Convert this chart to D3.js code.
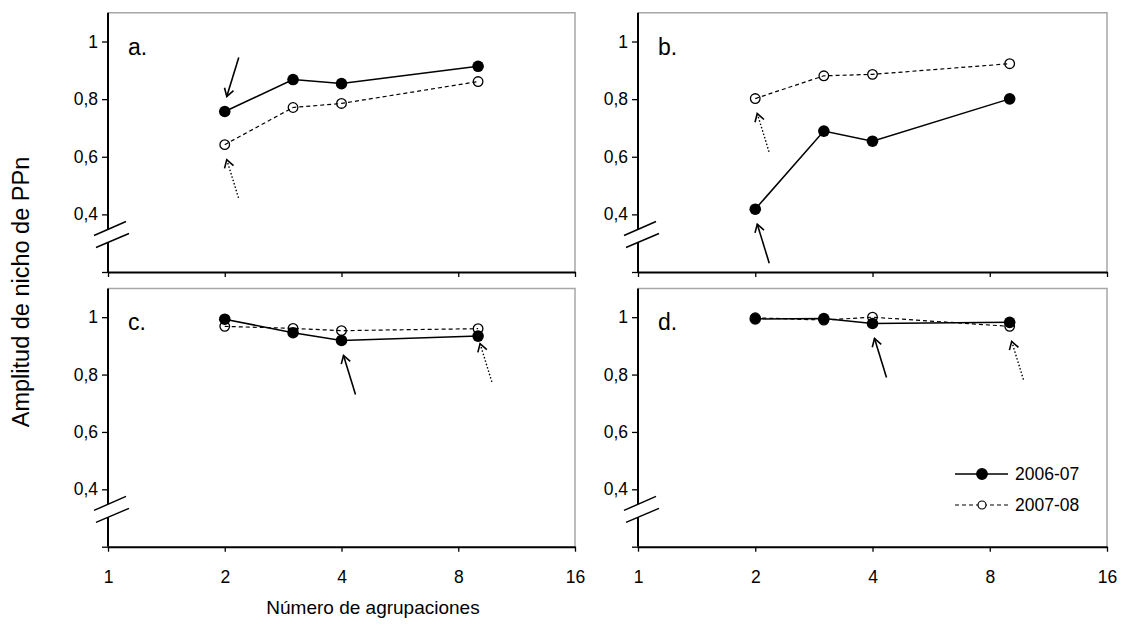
<!DOCTYPE html>
<html>
<head>
<meta charset="utf-8">
<title>Amplitud de nicho</title>
<script src="https://d3js.org/d3.v7.min.js"></script>
<style>
  body { margin: 0; background: #fff; }
  svg text { font-family: "Liberation Sans", Arial, sans-serif; fill: #000; }
</style>
</head>
<body>
<div id="chart"></div>
<script>
// numero de agrupaciones (eje x, log2)
const grupos = [2, 3, 4, 9];
const xTicks = [1, 2, 4, 8, 16];
const yTicks = [0.2, 0.4, 0.6, 0.8, 1];
const series = ["2006-07", "2007-08"];

const a0607 = [0.757, 0.868, 0.854, 0.914];
const a0708 = [0.642, 0.771, 0.785, 0.861];
const b0607 = [0.418, 0.689, 0.654, 0.801];
const b0708 = [0.802, 0.881, 0.886, 0.923];
const c0607 = [0.993, 0.946, 0.919, 0.934];
const c0708 = [0.968, 0.961, 0.953, 0.960];
const d0607 = [0.994, 0.995, 0.978, 0.982];
const d0708 = [0.998, 0.990, 1.000, 0.968];

// flechas: serie, indice del punto, direccion (1 = desde abajo, -1 = desde arriba)
const flechasA = [[0, 0, -1], [1, 0, 1]];
const flechasB = [[1, 0, 1], [0, 0, 1]];
const flechasC = [[0, 2, 1], [1, 3, 1]];
const flechasD = [[0, 2, 1], [1, 3, 1]];

const panels = [
  {label: "a.", vals: [a0607, a0708], arrows: flechasA, box: [108, 575, 12.7, 272], xlab: false},
  {label: "b.", vals: [b0607, b0708], arrows: flechasB, box: [638, 1107, 12.7, 272], xlab: false},
  {label: "c.", vals: [c0607, c0708], arrows: flechasC, box: [108, 575, 288.5, 546.7], xlab: true},
  {label: "d.", vals: [d0607, d0708], arrows: flechasD, box: [638, 1107, 288.5, 546.7], xlab: true, legend: true}
];

const W = 1123, H = 630;
const svg = d3.select("#chart").append("svg").attr("width", W).attr("height", H);

const fmt = d => d === 0.2 ? "" : String(d).replace(".", ",");

function arrow(g, px, py, dir, dashed) {
  // punta cerca del punto, cola desplazada a la derecha
  const tip = [px + 2, py + dir * 15];
  const tail = [tip[0] + 12, tip[1] + dir * 39];
  const ang = Math.atan2(tail[1] - tip[1], tail[0] - tip[0]);
  const L = 9, spread = 0.55;
  const h1 = [tip[0] + L * Math.cos(ang + spread), tip[1] + L * Math.sin(ang + spread)];
  const h2 = [tip[0] + L * Math.cos(ang - spread), tip[1] + L * Math.sin(ang - spread)];
  g.append("line")
    .attr("x1", tip[0]).attr("y1", tip[1]).attr("x2", tail[0]).attr("y2", tail[1])
    .attr("stroke", "#000").attr("stroke-width", dashed ? 1.4 : 1.6)
    .attr("stroke-dasharray", dashed ? "1.5,2" : null);
  g.append("path")
    .attr("d", d3.line()([h1, tip, h2]))
    .attr("fill", "none").attr("stroke", "#000").attr("stroke-width", 1.6);
}

panels.forEach(p => {
  const [x0, x1, y0, y1] = p.box;
  const x = d3.scaleLog().base(2).domain([1, 16]).range([x0, x1]);
  const y = d3.scaleLinear().domain([0.2, 1.1]).range([y1, y0]);
  const g = svg.append("g");

  // marco gris arriba y derecha
  g.append("path")
    .attr("d", `M${x0},${y0}H${x1}V${y1}`)
    .attr("fill", "none").attr("stroke", "#a6a6a6").attr("stroke-width", 1.5);

  const yAx = g.append("g").attr("transform", `translate(${x0},0)`)
    .call(d3.axisLeft(y).tickValues(yTicks).tickSize(6).tickSizeOuter(0).tickPadding(4).tickFormat(fmt));
  const xAx = g.append("g").attr("transform", `translate(0,${y1})`)
    .call(d3.axisBottom(x).tickValues(xTicks).tickSize(5).tickSizeOuter(0).tickPadding(19)
      .tickFormat(p.xlab ? d3.format("d") : ""));
  [yAx, xAx].forEach(a => {
    a.select(".domain").attr("stroke", "#000").attr("stroke-width", 2);
    a.selectAll(".tick line").attr("stroke", "#000").attr("stroke-width", 1.3);
    a.selectAll("text").attr("font-size", 17.5).attr("font-family", "Liberation Sans, Arial, sans-serif");
  });
  yAx.select(".domain").attr("d", `M0,${y0}V${y1}`);

  // corte del eje
  const yb = y(0.33);
  const l1 = [[x0 - 14, yb + 1], [x0 + 18, yb - 13]];
  const l2 = [[x0 - 12, yb + 13], [x0 + 21, yb - 1]];
  g.append("path").attr("d", d3.line()([l1[0], l1[1], l2[1], l2[0]]) + "Z").attr("fill", "#fff");
  g.append("path").attr("d", d3.line()(l1)).attr("stroke", "#000").attr("stroke-width", 1.5);
  g.append("path").attr("d", d3.line()(l2)).attr("stroke", "#000").attr("stroke-width", 1.5);

  // etiqueta del panel
  g.append("text").attr("x", x0 + 20).attr("y", y(1) + 13).attr("font-size", 23).text(p.label);

  const line = d3.line().x((d, i) => x(grupos[i])).y(d => y(d));
  // 2007-08 discontinua, abierta
  g.append("path").attr("d", line(p.vals[1])).attr("fill", "none")
    .attr("stroke", "#000").attr("stroke-width", 1.2).attr("stroke-dasharray", "4,3");
  g.selectAll(".open").data(p.vals[1]).enter().append("circle")
    .attr("cx", (d, i) => x(grupos[i])).attr("cy", d => y(d)).attr("r", 4.8)
    .attr("fill", "none").attr("stroke", "#000").attr("stroke-width", 1.3);
  // 2006-07 continua, llena
  g.append("path").attr("d", line(p.vals[0])).attr("fill", "none")
    .attr("stroke", "#000").attr("stroke-width", 1.5);
  g.selectAll(".full").data(p.vals[0]).enter().append("circle")
    .attr("cx", (d, i) => x(grupos[i])).attr("cy", d => y(d)).attr("r", 5.8)
    .attr("fill", "#000");

  p.arrows.forEach(([s, i, dir]) => {
    arrow(g, x(grupos[i]), y(p.vals[s][i]), dir, s === 1);
  });

  if (p.legend) {
    const lg = g.append("g");
    series.forEach((name, k) => {
      const ly = 474 + k * 31;
      lg.append("line").attr("x1", 955).attr("x2", 1008).attr("y1", ly).attr("y2", ly)
        .attr("stroke", "#000").attr("stroke-width", k ? 1.2 : 1.5)
        .attr("stroke-dasharray", k ? "4,3" : null);
      lg.append("circle").attr("cx", 982).attr("cy", ly).attr("r", k ? 4 : 5.3)
        .attr("fill", k ? "#fff" : "#000").attr("stroke", "#000").attr("stroke-width", 1.2);
      lg.append("text").attr("x", 1015).attr("y", ly).attr("dy", "0.35em")
        .attr("font-size", 17.5).text(name);
    });
  }
});

svg.append("text").attr("x", 373).attr("y", 614).attr("text-anchor", "middle")
  .attr("font-size", 19).text("Número de agrupaciones");
svg.append("text").attr("transform", "translate(29,292) rotate(-90)")
  .attr("text-anchor", "middle").attr("font-size", 23.5).text("Amplitud de nicho de PPn");
</script>
</body>
</html>
